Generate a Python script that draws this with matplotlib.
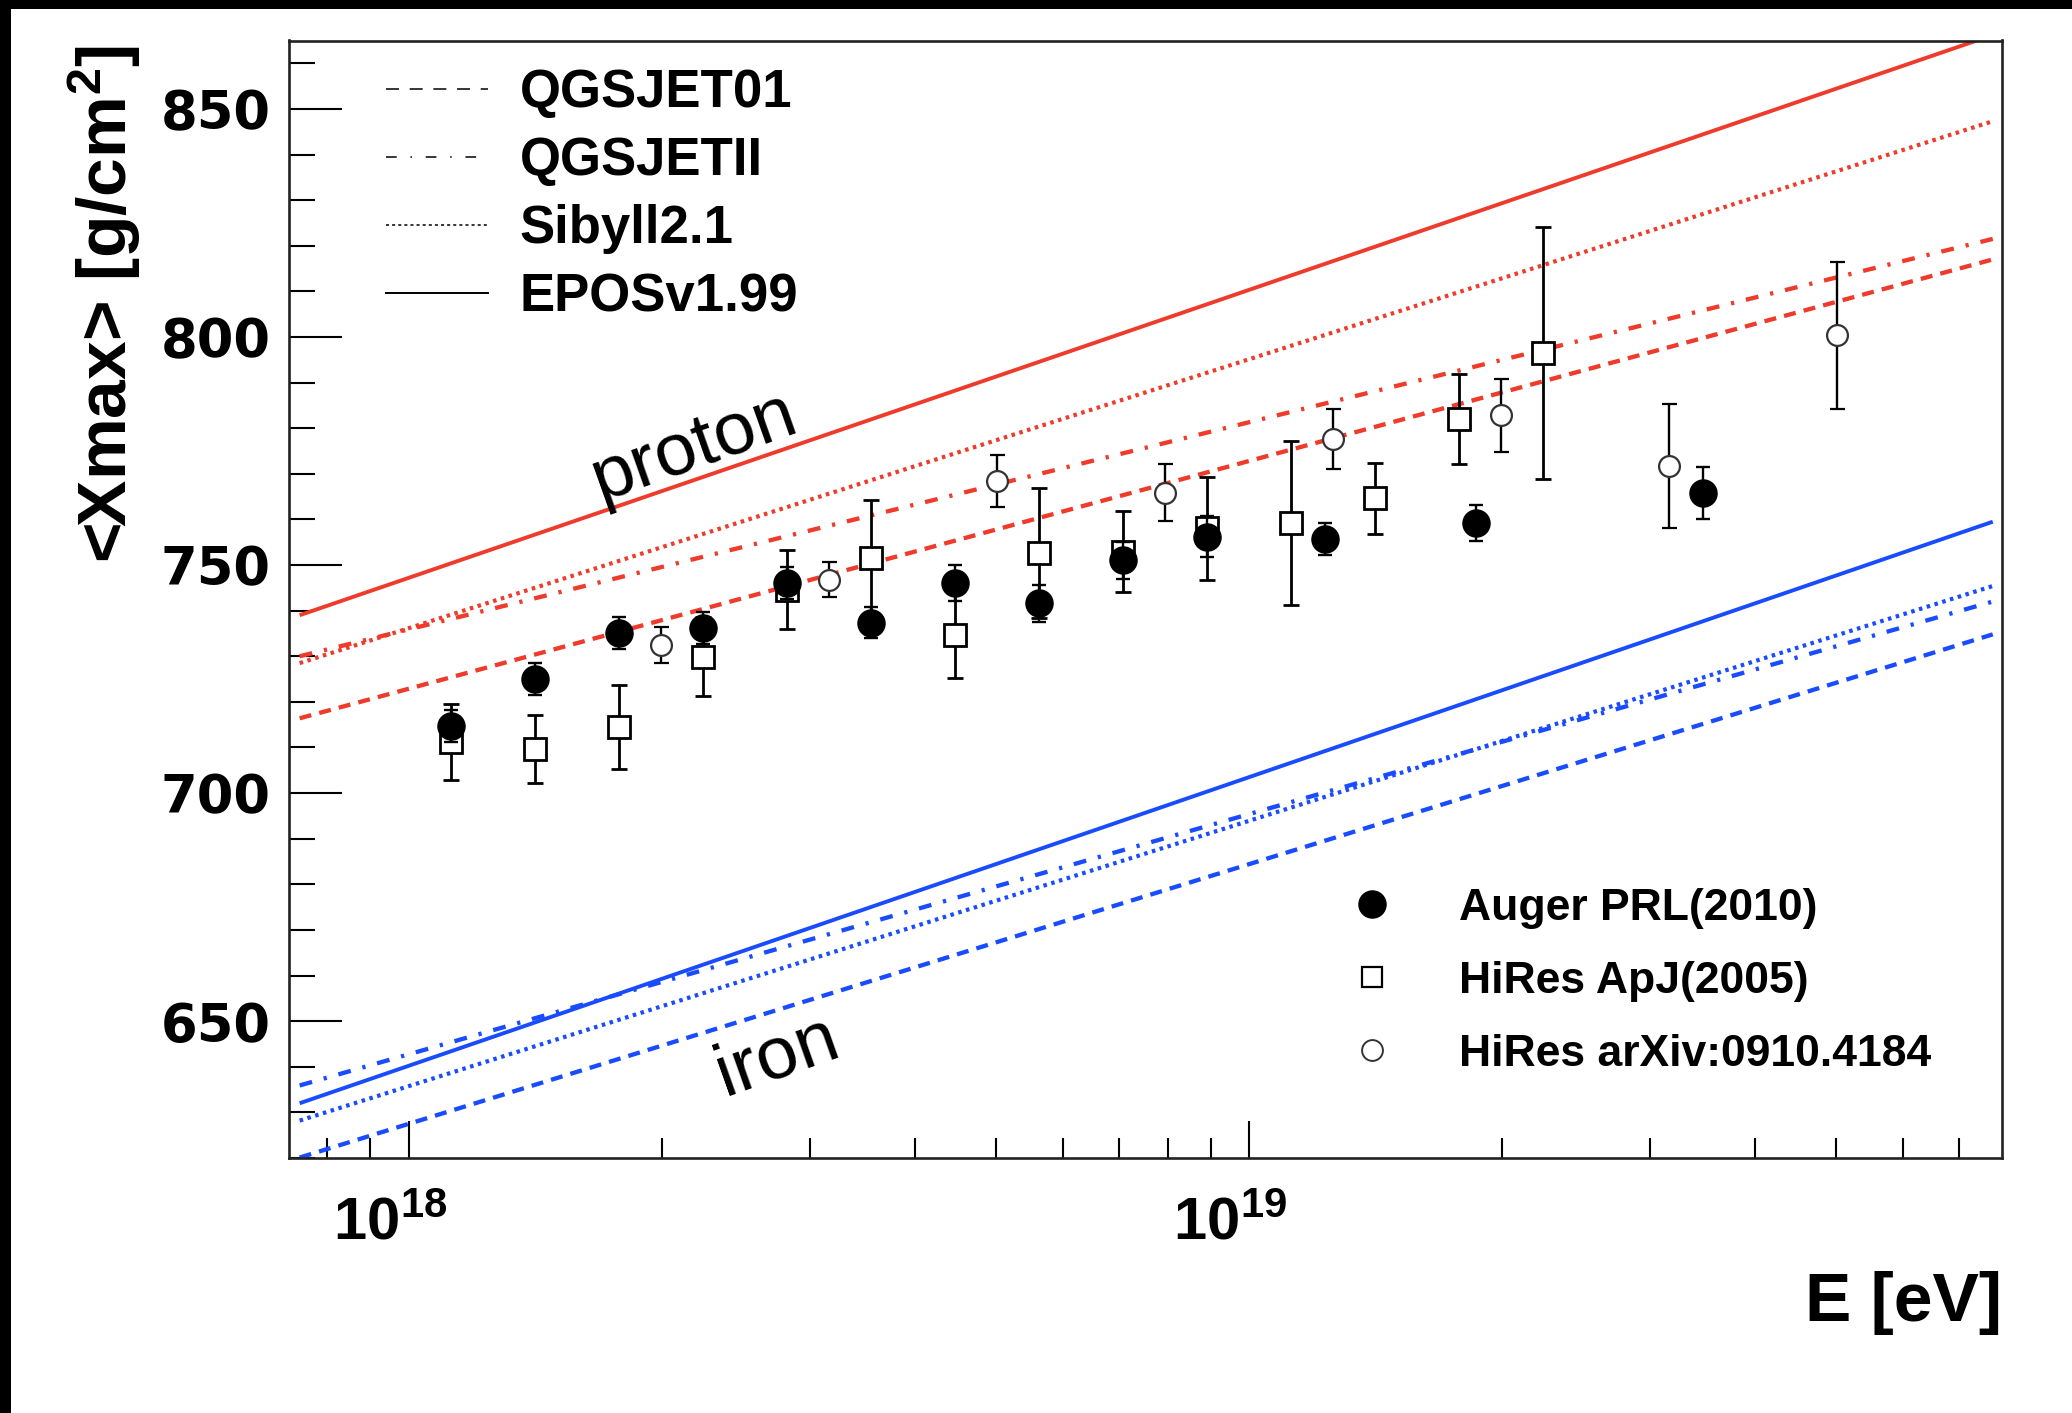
import numpy as np
import matplotlib
matplotlib.use('Agg')
import matplotlib.pyplot as plt
from matplotlib.lines import Line2D
from matplotlib.patches import Rectangle
from matplotlib.ticker import LogLocator, NullFormatter, MultipleLocator, FixedLocator
from matplotlib.transforms import ScaledTranslation

plt.rcParams['font.family'] = ['Liberation Sans', 'DejaVu Sans']
plt.rcParams['mathtext.fontset'] = 'custom'
plt.rcParams['mathtext.rm'] = 'Liberation Sans'
plt.rcParams['mathtext.bf'] = 'Liberation Sans:bold'
plt.rcParams['mathtext.it'] = 'Liberation Sans:italic'

# ---------------- data ----------------
model_lgE = [17.87, 19.885]
proton_qgsjet01 = [716.4, 817.0]
proton_qgsjetII = [730.0, 821.5]
proton_sibyll = [728.5, 847.3]
proton_epos = [739.0, 866.2]
iron_qgsjet01 = [620.1, 734.8]
iron_qgsjetII = [635.9, 742.0]
iron_sibyll = [628.2, 745.4]
iron_epos = [632.0, 759.5]

auger_lgE = [18.05, 18.15, 18.25, 18.35, 18.45, 18.55, 18.65, 18.75, 18.85, 18.95, 19.09, 19.27, 19.54]
auger_xmax = [714.7, 725.1, 735.1, 736.2, 746.1, 737.4, 746.1, 741.6, 751.0, 756.2, 755.7, 759.2, 765.9]
auger_err = [3.5, 3.5, 3.5, 3.5, 3.5, 3.5, 4.0, 4.0, 4.0, 4.5, 3.5, 4.0, 5.7]

hires05_lgE = [18.05, 18.15, 18.25, 18.35, 18.45, 18.55, 18.65, 18.75, 18.85, 18.95, 19.05, 19.15, 19.25, 19.35]
hires05_xmax = [711.2, 709.7, 714.5, 729.9, 744.6, 751.6, 734.7, 752.6, 752.9, 758.1, 759.2, 764.6, 782.0, 796.5]
hires05_err = [8.3, 7.5, 9.3, 8.6, 8.6, 12.6, 9.5, 14.3, 8.9, 11.3, 17.9, 7.8, 9.8, 27.7]

hires09_lgE = [18.3, 18.5, 18.7, 18.9, 19.1, 19.3, 19.5, 19.7]
hires09_xmax = [732.5, 746.8, 768.5, 765.9, 777.6, 782.8, 771.8, 800.4]
hires09_err = [3.9, 3.8, 5.7, 6.3, 6.6, 8.0, 13.6, 16.1]

model_labels = ['QGSJET01', 'QGSJETII', 'Sibyll2.1', 'EPOSv1.99']
data_labels = ['Auger PRL(2010)', 'HiRes ApJ(2005)', 'HiRes arXiv:0910.4184']
x_ticks = [1e18, 1e19]
x_ticklabels = [r'$\mathbf{10^{18}}$', r'$\mathbf{10^{19}}$']
y_ticks = [650, 700, 750, 800, 850]

# ---------------- styles ----------------
RED = '#ee3b2b'
BLUE = '#1a4cff'
styles = {
    'QGSJET01': dict(lw=3.1, dashes=(2.8, 1.9)),
    'QGSJETII': dict(lw=3.1, dashes=(3.0, 2.8, 0.75, 2.8)),
    'Sibyll2.1': dict(lw=3.0, dashes=(0.85, 1.1)),
    'EPOSv1.99': dict(lw=2.8, linestyle='-'),
}

W, H = 2072, 1413
fig = plt.figure(figsize=(W / 100, H / 100), dpi=100)
fig.patch.set_facecolor('white')
ax = fig.add_axes([289 / W, 1 - 1158 / H, (2002 - 289) / W, (1158 - 40.5) / H])

E_model = 10 ** np.array(model_lgE)
for name, vals in zip(model_labels, [proton_qgsjet01, proton_qgsjetII, proton_sibyll, proton_epos]):
    ax.plot(E_model, vals, color=RED, solid_capstyle='butt', dash_capstyle='butt',
            **styles[name])
for name, vals in zip(model_labels, [iron_qgsjet01, iron_qgsjetII, iron_sibyll, iron_epos]):
    ax.plot(E_model, vals, color=BLUE, solid_capstyle='butt', dash_capstyle='butt',
            **styles[name])

# HiRes ApJ 2005 squares
ax.errorbar(10 ** np.array(hires05_lgE), hires05_xmax, yerr=hires05_err, fmt='s',
            ms=16, mfc='white', mec='black', mew=2.0, ecolor='black', elinewidth=2.0,
            capsize=6.0, capthick=2.0, zorder=4)
# HiRes arXiv open circles
ax.errorbar(10 ** np.array(hires09_lgE), hires09_xmax, yerr=hires09_err, fmt='o',
            ms=15, mfc='white', mec='#333333', mew=1.6, ecolor='black', elinewidth=1.7,
            capsize=5.4, capthick=1.7, zorder=5)
# Auger filled circles
ax.errorbar(10 ** np.array(auger_lgE), auger_xmax, yerr=auger_err, fmt='o',
            ms=19.5, mfc='black', mec='black', ecolor='black', elinewidth=1.7,
            capsize=4.7, capthick=1.7, zorder=6)

ax.set_xscale('log')
ax.set_xlim(7.2e17, 7.87e19)
ax.set_ylim(620, 865)

ax.xaxis.set_major_locator(FixedLocator(x_ticks))
ax.set_xticklabels(x_ticklabels)
ax.xaxis.set_minor_locator(LogLocator(base=10, subs=np.arange(2, 10)))
ax.xaxis.set_minor_formatter(NullFormatter())
ax.yaxis.set_major_locator(FixedLocator(y_ticks))
ax.set_yticklabels([str(v) for v in y_ticks])
ax.yaxis.set_minor_locator(MultipleLocator(10))

ax.tick_params(axis='y', which='major', direction='in', length=38, width=1.5,
               left=True, right=False, pad=13)
ax.tick_params(axis='y', which='minor', direction='in', length=19, width=1.5,
               left=True, right=False)
ax.tick_params(axis='x', which='major', direction='in', length=26.5, width=1.5,
               bottom=True, top=False, pad=28, labelsize=43)
ax.tick_params(axis='x', which='minor', direction='in', length=14.4, width=1.5,
               bottom=True, top=False)
for lab in ax.get_yticklabels():
    lab.set_fontfamily('DejaVu Sans')
    lab.set_fontweight('bold')
    lab.set_fontsize(38)
offset = ScaledTranslation(-19 / 100, 0, fig.dpi_scale_trans)
for lab in ax.xaxis.get_majorticklabels():
    lab.set_transform(lab.get_transform() + offset)

for side in ['left', 'bottom', 'top', 'right']:
    ax.spines[side].set_linewidth(1.9)
    ax.spines[side].set_color('#222222')

# axis titles
fig.text(104.5 / W, 1 - 304 / H, r'<Xmax> [g/cm$^{\mathbf{2}}$]', rotation=90,
         ha='center', va='center', fontsize=50, fontweight='bold')
fig.text(2002 / W, 1 - 1303 / H, 'E [eV]', ha='right', va='center',
         fontsize=50, fontweight='bold')

# proton / iron labels
ax.text(10 ** 18.339, 775.9, 'proton', rotation=19.5, rotation_mode='anchor',
        ha='center', va='center', fontsize=54)
ax.text(10 ** 18.439, 642.2, 'iron', rotation=19.5, rotation_mode='anchor',
        ha='center', va='center', fontsize=54)

# legend: models (black line styles)
model_handles = [
    Line2D([], [], color='black', lw=1.1, dashes=(8.5, 7.0)),
    Line2D([], [], color='black', lw=1.1, dashes=(7.0, 9.0, 1.0, 9.0)),
    Line2D([], [], color='black', lw=1.1, dashes=(2.0, 2.0)),
    Line2D([], [], color='black', lw=1.4, linestyle='-'),
]
leg1 = ax.legend(model_handles, model_labels, loc='upper left',
                 bbox_to_anchor=(386 / W, 1 - 68.5 / H), bbox_transform=fig.transFigure,
                 frameon=False, prop={'family': 'Liberation Sans', 'weight': 'bold', 'size': 38},
                 handlelength=1.93, handletextpad=0.6, labelspacing=0.34,
                 borderpad=0, borderaxespad=0)
ax.add_artist(leg1)

data_handles = [
    Line2D([], [], linestyle='none', marker='o', ms=19.5, mfc='black', mec='black'),
    Line2D([], [], linestyle='none', marker='s', ms=14, mfc='white', mec='black', mew=1.6),
    Line2D([], [], linestyle='none', marker='o', ms=15, mfc='white', mec='#333333', mew=1.4),
]
leg2 = ax.legend(data_handles, data_labels, loc='upper left',
                 bbox_to_anchor=(1345.5 / W, 1 - 888 / H), bbox_transform=fig.transFigure,
                 frameon=False, prop={'family': 'Liberation Sans', 'weight': 'bold', 'size': 32},
                 handlelength=1.2, handletextpad=1.36, labelspacing=0.72,
                 borderpad=0, borderaxespad=0)

# black border strips of the reference image
fig.patches.append(Rectangle((0, 1 - 9 / H), 1, 9 / H, transform=fig.transFigure,
                             facecolor='black', edgecolor='none', zorder=10))
fig.patches.append(Rectangle((0, 0), 11 / W, 1, transform=fig.transFigure,
                             facecolor='black', edgecolor='none', zorder=10))

fig.savefig('out.png', dpi=100)
